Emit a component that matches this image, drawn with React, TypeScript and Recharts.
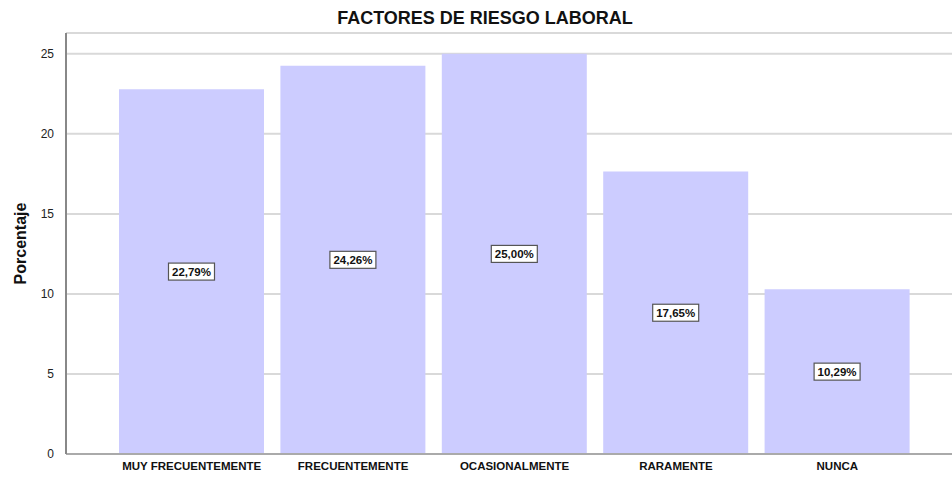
import { BarChart, Bar, XAxis, YAxis, CartesianGrid, LabelList, Label } from "recharts";

const categories = ["MUY FRECUENTEMENTE", "FRECUENTEMENTE", "OCASIONALMENTE", "RARAMENTE", "NUNCA"];
const percentages = [22.79, 24.26, 25.0, 17.65, 10.29];
const yTicks = [0, 5, 10, 15, 20, 25];

const data = categories.map((name, i) => ({ name, value: percentages[i] }));

const font = "'Liberation Sans', Arial, sans-serif";

function BoxLabel(props: any) {
  const { x, y, width, height, value } = props;
  const cx = x + width / 2;
  const cy = y + height / 2;
  const text = Number(value).toFixed(2).replace(".", ",") + "%";
  return (
    <g>
      <rect x={cx - 23} y={cy - 8.5} width={46} height={17} fill="#ffffff" stroke="#555555" strokeWidth={1.2} />
      <text x={cx} y={cy} textAnchor="middle" dominantBaseline="central" fontFamily={font} fontWeight="bold" fontSize={11.5} fill="#111111">
        {text}
      </text>
    </g>
  );
}

export default function App() {
  return (
    <div style={{ position: "absolute", left: 0, top: 0, width: 952, height: 477, background: "#fff" }}>
      <div
        style={{
          position: "absolute",
          top: 8,
          left: 18,
          width: 934,
          textAlign: "center",
          fontFamily: font,
          fontWeight: "bold",
          fontSize: 18,
          color: "#111",
        }}
      >
        FACTORES DE RIESGO LABORAL
      </div>
      <BarChart
        width={952}
        height={477}
        data={data}
        margin={{ top: 33, right: 0, bottom: 0, left: 6 }}
        barCategoryGap={8}
      >
        <CartesianGrid horizontal vertical={false} stroke="#d9d9d9" strokeWidth={2} />
        <XAxis
          dataKey="name"
          height={23}
          padding={{ left: 45, right: 34 }}
          tickLine={false}
          axisLine={{ stroke: "#aaaaaa", strokeWidth: 2 }}
          tick={{ fontFamily: font, fontWeight: "bold", fontSize: 11.5, fill: "#111" }}
          interval={0}
        />
        <YAxis
          width={60}
          domain={[0, 26.3]}
          ticks={yTicks}
          allowDataOverflow
          tickLine={false}
          tickMargin={6}
          axisLine={{ stroke: "#888888", strokeWidth: 2 }}
          tick={{ fontFamily: font, fontSize: 12, fill: "#222" }}
        >
          <Label
            value="Porcentaje"
            angle={-90}
            position="insideLeft"
            offset={14}
            style={{ textAnchor: "middle", fontFamily: font, fontWeight: "bold", fontSize: 16, fill: "#111" }}
          />
        </YAxis>
        <Bar dataKey="value" fill="#ccccff" isAnimationActive={false}>
          <LabelList dataKey="value" content={BoxLabel} />
        </Bar>
      </BarChart>
    </div>
  );
}
